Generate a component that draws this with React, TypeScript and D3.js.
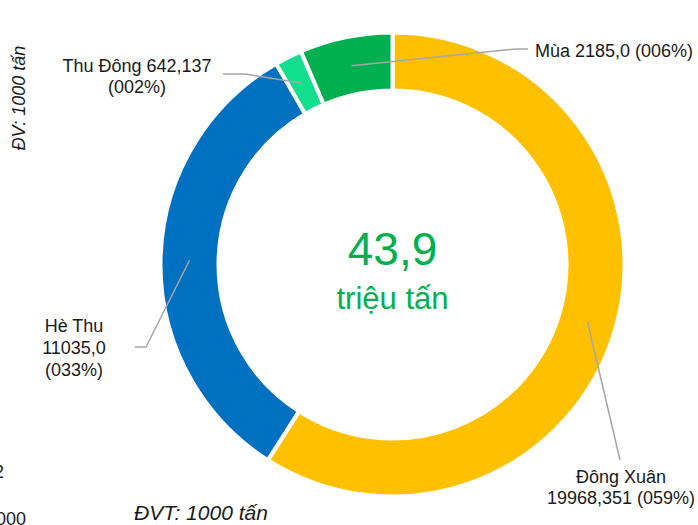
import React from "react";
import * as d3 from "d3";

const categories = ["Đông Xuân", "Hè Thu", "Thu Đông", "Mùa"];
const values = [19968.351, 11035.0, 642.137, 2185.0];
const valueLabels = ["19968,351", "11035,0", "642,137", "2185,0"];
const percentLabels = ["(059%)", "(033%)", "(002%)", "(006%)"];
const colors = ["#FFC000", "#0070C0", "#12DF8E", "#00B050"];
const totalLabel = "43,9";
const totalUnit = "triệu tấn";

const W = 698;
const H = 525;
const cx = 392.5;
const cy = 264.5;
const rOuter = 232;
const rInner = 174;
const font = "'Liberation Sans', Arial, sans-serif";

export default function App() {
  const pie = d3.pie<number>().sort(null).startAngle(0).endAngle(2 * Math.PI)(values);
  const arc = d3.arc<d3.PieArcDatum<number>>().innerRadius(rInner).outerRadius(rOuter);
  const mid = (d: d3.PieArcDatum<number>) => {
    const a = (d.startAngle + d.endAngle) / 2;
    const r = 203;
    return [cx + r * Math.sin(a), cy - r * Math.cos(a)];
  };
  const p = pie.map(mid);
  const lineColor = "#A6A6A6";
  const txt = "#1a1a1a";
  const fs = 18;

  return (
    <svg width={W} height={H} style={{ position: "absolute", left: 0, top: 0, background: "#fff" }} fontFamily={font}>
      <g>
        {pie.map((d, i) => (
          <path key={i} d={arc(d) || ""} transform={`translate(${cx},${cy})`} fill={colors[i]} stroke="#fff" strokeWidth={4} />
        ))}
      </g>
      {/* leader lines */}
      <polyline points={`${p[3][0]},${p[3][1]} 516,49 528,49`} fill="none" stroke={lineColor} strokeWidth={1.5} />
      <polyline points={`${p[2][0]},${p[2][1]} 245,74 223,74`} fill="none" stroke={lineColor} strokeWidth={1.5} />
      <polyline points={`${p[1][0]},${p[1][1]} 146,347 135,347`} fill="none" stroke={lineColor} strokeWidth={1.5} />
      <polyline points={`${p[0][0]},${p[0][1]} 620,460`} fill="none" stroke={lineColor} strokeWidth={1.5} />
      {/* labels */}
      <text x={535} y={57} fontSize={fs} fill={txt}>{`${categories[3]} ${valueLabels[3]} ${percentLabels[3]}`}</text>
      <text x={137} y={72} fontSize={fs} fill={txt} textAnchor="middle">{`${categories[2]} ${valueLabels[2]}`}</text>
      <text x={137} y={93} fontSize={fs} fill={txt} textAnchor="middle">{percentLabels[2]}</text>
      <text x={74} y={332} fontSize={fs} fill={txt} textAnchor="middle">{categories[1]}</text>
      <text x={74} y={354} fontSize={fs} fill={txt} textAnchor="middle">{valueLabels[1]}</text>
      <text x={74} y={376} fontSize={fs} fill={txt} textAnchor="middle">{percentLabels[1]}</text>
      <text x={621} y={483} fontSize={fs} fill={txt} textAnchor="middle">{categories[0]}</text>
      <text x={621} y={504} fontSize={fs} fill={txt} textAnchor="middle">{`${valueLabels[0]} ${percentLabels[0]}`}</text>
      {/* center */}
      <text x={cx} y={265} fontSize={46} fill="#00B050" textAnchor="middle">{totalLabel}</text>
      <text x={cx} y={309} fontSize={31} fill="#00B050" textAnchor="middle">{totalUnit}</text>
      {/* units */}
      <text transform="translate(25,98) rotate(-90)" fontSize={18} fontStyle="italic" fill={txt} textAnchor="middle">ĐV: 1000 tấn</text>
      <text x={134} y={520} fontSize={21} fontStyle="italic" fill={txt}>ĐVT: 1000 tấn</text>
      {/* clipped fragments at the left edge */}
      <text x={4} y={478} fontSize={18} fill={txt} textAnchor="end">2</text>
      <text x={26} y={525} fontSize={18} fill={txt} textAnchor="end">1000</text>
    </svg>
  );
}
